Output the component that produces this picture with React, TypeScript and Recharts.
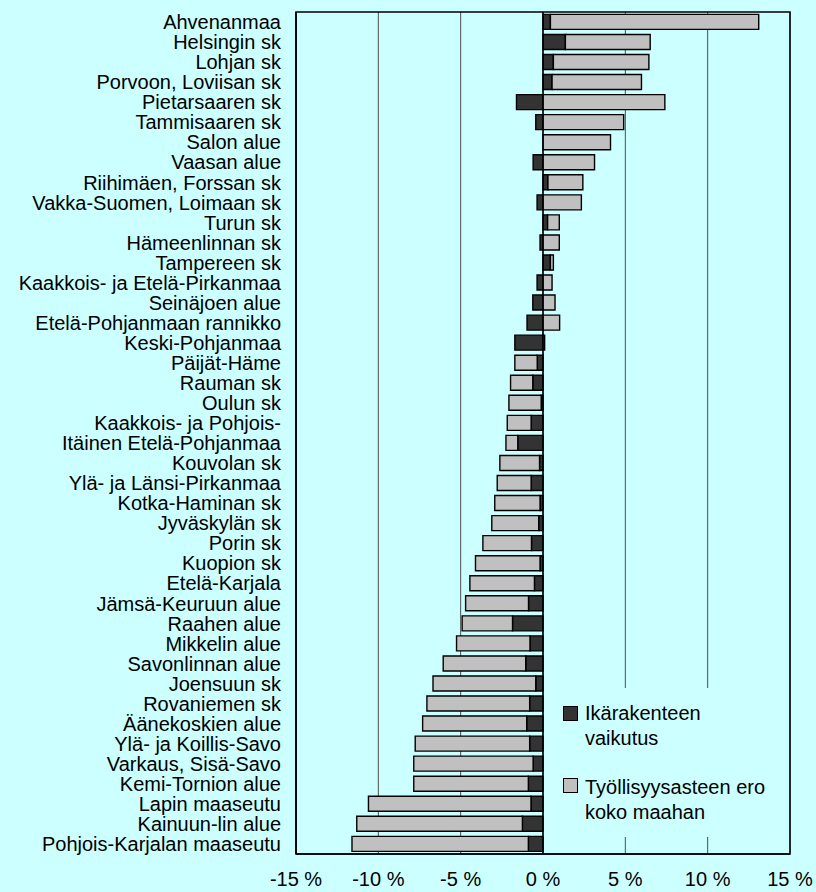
import { BarChart, Bar, XAxis, YAxis, CartesianGrid, Legend, ReferenceLine, ReferenceArea } from 'recharts';

const categories = [
  'Ahvenanmaa', 'Helsingin sk', 'Lohjan sk', 'Porvoon, Loviisan sk', 'Pietarsaaren sk',
  'Tammisaaren sk', 'Salon alue', 'Vaasan alue', 'Riihimäen, Forssan sk', 'Vakka-Suomen, Loimaan sk',
  'Turun sk', 'Hämeenlinnan sk', 'Tampereen sk', 'Kaakkois- ja Etelä-Pirkanmaa', 'Seinäjoen alue',
  'Etelä-Pohjanmaan rannikko', 'Keski-Pohjanmaa', 'Päijät-Häme', 'Rauman sk', 'Oulun sk',
  'Kaakkois- ja Pohjois-', 'Itäinen Etelä-Pohjanmaa', 'Kouvolan sk', 'Ylä- ja Länsi-Pirkanmaa',
  'Kotka-Haminan sk', 'Jyväskylän sk', 'Porin sk', 'Kuopion sk', 'Etelä-Karjala',
  'Jämsä-Keuruun alue', 'Raahen alue', 'Mikkelin alue', 'Savonlinnan alue', 'Joensuun sk',
  'Rovaniemen sk', 'Äänekoskien alue', 'Ylä- ja Koillis-Savo', 'Varkaus, Sisä-Savo',
  'Kemi-Tornion alue', 'Lapin maaseutu', 'Kainuun-lin alue', 'Pohjois-Karjalan maaseutu',
];

// Ikärakenteen vaikutus (%-yks.)
const ika = [
  0.45, 1.36, 0.63, 0.55, -1.61, -0.44, 0, -0.6,
  0.3, -0.36, 0.28, -0.18, 0.45, -0.36, -0.62, -0.97,
  -1.71, -0.35, -0.62, -0.11, -0.72, -1.53, -0.21, -0.72,
  -0.18, -0.26, -0.7, -0.18, -0.52, -0.88, -1.85, -0.79,
  -1.05, -0.44, -0.81, -0.99, -0.81, -0.6, -0.89, -0.73,
  -1.25, -0.89,
];

// Työllisyysasteen ero koko maahan (%-yks.)
const ero = [
  12.65, 5.15, 5.8, 5.43, 7.4, 4.9, 4.1, 3.13,
  2.12, 2.33, 0.71, 0.99, 0.18, 0.55, 0.73, 1.01,
  0.1, -1.36, -1.35, -1.96, -1.45, -0.72, -2.41, -2.06,
  -2.75, -2.85, -2.95, -3.92, -3.92, -3.82, -3.06, -4.46,
  -5.01, -6.24, -6.24, -6.32, -6.95, -7.25, -6.96, -9.87,
  -10.06, -10.71,
];

const xTicks = [-15, -10, -5, 0, 5, 10, 15];

const seriesNames = ['Ikärakenteen vaikutus', 'Työllisyysasteen ero koko maahan'];
const legendLines = [['Ikärakenteen', 'vaikutus'], ['Työllisyysasteen ero', 'koko maahan']];

const data = categories.map((name, i) => ({ name, ika: ika[i], ero: ero[i] }));

const FONT = '"Liberation Sans", Arial, sans-serif';
const BG = '#ccffff';
const COLORS = ['#333333', '#c0c0c0'];

const LegendBox = () => (
  <div style={{ position: 'relative', width: 234, height: 149, background: BG, fontFamily: FONT, fontSize: 20, color: '#000' }}>
    {legendLines.map((lines, i) => (
      <div key={i}>
        <div
          style={{
            position: 'absolute', left: 8, top: i === 0 ? 18 : 90, width: 13, height: 13,
            background: COLORS[i], border: '1px solid #000',
          }}
        />
        <div style={{ position: 'absolute', left: 30, top: i === 0 ? 12.5 : 86.5, lineHeight: '25px', whiteSpace: 'nowrap' }}>
          {lines.map((l) => <div key={l}>{l}</div>)}
        </div>
      </div>
    ))}
  </div>
);

export default function App() {
  return (
    <div style={{ width: 816, height: 892, background: BG, fontFamily: FONT }}>
      <style>{`body{margin:0;background:${BG}}`}</style>
      <BarChart
        width={816}
        height={892}
        data={data}
        layout="vertical"
        stackOffset="sign"
        barCategoryGap="12%"
        margin={{ top: 12, right: 26, left: 0, bottom: 0 }}
        style={{ fontFamily: FONT }}
      >
        <CartesianGrid horizontal={false} stroke="#4d4d4d" strokeWidth={1} />
        <XAxis
          type="number"
          domain={[-15, 15]}
          ticks={xTicks}
          tickFormatter={(v: number) => `${v} %`}
          height={38}
          tickLine={false}
          tickSize={0}
          tickMargin={18}
          axisLine={{ stroke: '#000', strokeWidth: 1.5 }}
          tick={{ fontSize: 20, fill: '#000' }}
          interval={0}
        />
        <YAxis
          type="category"
          dataKey="name"
          width={296}
          tickLine={false}
          tickSize={0}
          tickMargin={15}
          axisLine={{ stroke: '#000', strokeWidth: 1.5 }}
          tick={{ fontSize: 20, fill: '#000' }}
          interval={0}
        />
        <Bar dataKey="ika" name={seriesNames[0]} stackId="a" fill={COLORS[0]} stroke="#000" strokeWidth={1.4} isAnimationActive={false} />
        <Bar dataKey="ero" name={seriesNames[1]} stackId="a" fill={COLORS[1]} stroke="#000" strokeWidth={1.4} isAnimationActive={false} />
        <ReferenceLine x={0} stroke="#000" strokeWidth={1.5} />
        <ReferenceArea x1={-15} x2={15} fill="none" stroke="#000" strokeWidth={1.5} />
        <Legend
          layout="vertical"
          align="center"
          verticalAlign="middle"
          content={() => <LegendBox />}
          wrapperStyle={{ position: 'absolute', left: 555, top: 688, width: 234, height: 149 }}
        />
      </BarChart>
    </div>
  );
}
